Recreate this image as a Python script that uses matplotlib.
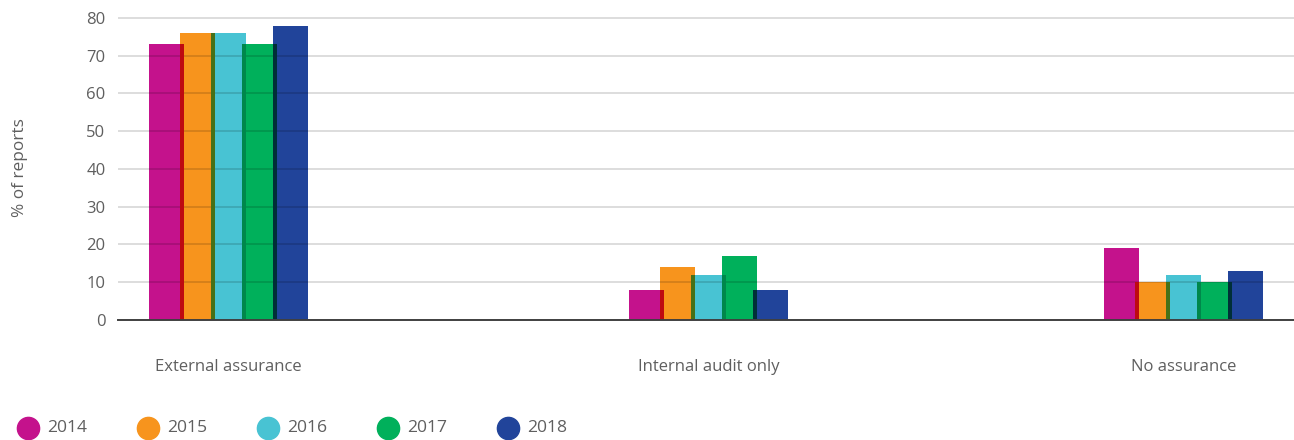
import matplotlib.pyplot as plt
from matplotlib.colors import to_rgb
import numpy as np

plt.rcParams['font.family'] = ['Open Sans', 'DejaVu Sans']

categories = ["External assurance", "Internal audit only", "No assurance"]
years = ["2014", "2015", "2016", "2017", "2018"]
values = {
    "2014": [73, 8, 19],
    "2015": [76, 14, 10],
    "2016": [76, 12, 12],
    "2017": [73, 17, 10],
    "2018": [78, 8, 13],
}
colors = ["#C4128C", "#F7941D", "#48C3D3", "#00B05B", "#21449A"]

text_color = "#5f5f5f"
bar_width = 0.0733
step = 0.0649


def multiply(c1, c2):
    # multiply blend of two colours, used where neighbouring bars overlap
    a, b = np.array(to_rgb(c1)), np.array(to_rgb(c2))
    return tuple(a * b)


fig = plt.figure(figsize=(12.94, 4.40), dpi=100)
ax = fig.add_axes([118 / 1294, 1 - 320 / 440, 1 - 118 / 1294, (320 - 14.2) / 440])

x = np.array([0.0, 1.005, 2.0])
offsets = (np.arange(len(years)) - 2) * step

for i, year in enumerate(years):
    ax.bar(x + offsets[i], values[year], width=bar_width, color=colors[i],
           linewidth=0, zorder=2)

# darker strips where consecutive bars overlap
for i in range(len(years) - 1):
    left = x + offsets[i + 1] - bar_width / 2
    right = x + offsets[i] + bar_width / 2
    h = np.minimum(values[years[i]], values[years[i + 1]])
    ax.bar((left + right) / 2, h, width=right - left,
           color=multiply(colors[i], colors[i + 1]), linewidth=0, zorder=3)

ax.set_xlim(-0.231, 2.231)
ax.set_ylim(0, 81)
ax.set_yticks(range(0, 81, 10))
ax.yaxis.grid(True, color="black", alpha=0.15, linewidth=1.3, zorder=4)
ax.set_axisbelow(False)

ax.set_xticks(x)
ax.set_xticklabels(categories)
ax.tick_params(axis="x", length=0, pad=28, labelsize=12, labelcolor=text_color)
ax.tick_params(axis="y", length=0, pad=9, labelsize=12, labelcolor=text_color)

for s in ["top", "right", "left"]:
    ax.spines[s].set_visible(False)
ax.spines["bottom"].set_color("#404040")
ax.spines["bottom"].set_linewidth(1.4)
ax.spines["bottom"].set_zorder(5)

fig.text(20 / 1294, 1 - 168 / 440, "% of reports", rotation=90, ha="center",
         va="center", fontsize=12.4, color=text_color)

# legend: coloured dots with year labels along the bottom
for i, (year, c) in enumerate(zip(years, colors)):
    cx = (28 + 120 * i) / 1294
    cy = 1 - 428 / 440
    ax.plot([cx], [cy], marker="o", markersize=16, color=c, linestyle="none",
            transform=fig.transFigure, clip_on=False)
    fig.text(cx + 19 / 1294, cy, year, ha="left", va="center", fontsize=12.6,
             color=text_color)

fig.savefig("out.png", dpi=100)
